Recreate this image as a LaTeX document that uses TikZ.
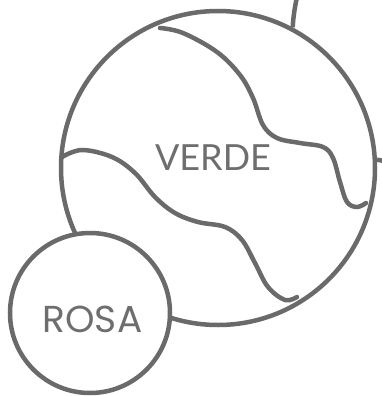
\documentclass[tikz,border=0pt]{standalone}
\usepackage{fontspec}
\setmainfont{Lato}
\newfontfamily\rosafont{Poppins}
\definecolor{ink}{HTML}{6A6A6B}
\definecolor{txt}{HTML}{6E6E6F}
\begin{document}
\begin{tikzpicture}[x=1pt,y=-1pt,
  ring/.style={circle,draw=ink,line width=4.5pt,inner sep=0pt,text=txt},
  wave/.style={draw=ink,line width=4.5pt,line cap=round}]
\useasboundingbox (0,0) rectangle (382,396);
\node[ring,minimum size=314pt] (verde) at (218,168) {};
\node[font=\fontsize{36}{36}\selectfont,text=txt] (vlabel) at (213,158) {VERDE};
\coordinate (topend) at (297,-3);
\coordinate (rightend) at (384,161);
\draw[wave,line cap=butt] (verde.62) .. controls (293,18) and (295,6) .. (topend);
\draw[wave,line cap=butt] (verde.3) -- (rightend);
\draw[wave] plot[smooth,tension=0.6] coordinates {(160,28) (183,33) (217,52) (240,75) (253,98) (263,125) (277,138) (300,143) (323,147) (333,158) (340,182) (347,202) (357,207) (366,203)};
\draw[wave] plot[smooth,tension=0.6] coordinates {(62,157) (82,150) (112,157) (135,173) (155,197) (175,213) (198,222) (225,227) (242,240) (255,263) (268,287) (285,300) (297,297)};
\node[ring,fill=white,minimum size=160pt] (rosa) at (90,313) {};
\node[font=\rosafont\fontsize{37.5}{37.5}\selectfont,text=txt,anchor=base] (rlabel) at (92.5,332.5) {ROSA};
\end{tikzpicture}
\end{document}
